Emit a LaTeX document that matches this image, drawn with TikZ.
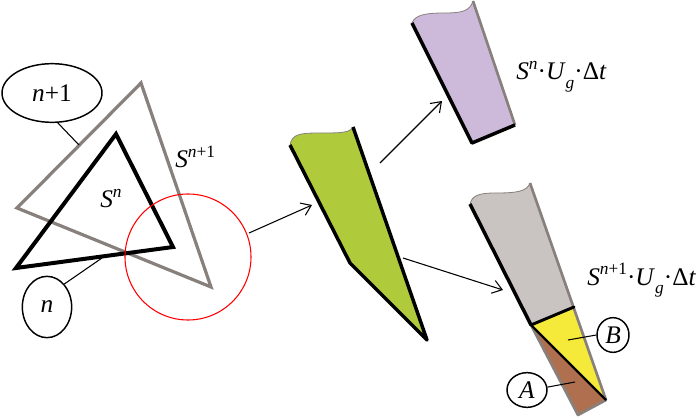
\documentclass[tikz,border=0pt]{standalone}
\usepackage{fontspec}
\setmainfont{Liberation Serif}
\usetikzlibrary{shapes.geometric,arrows.meta}
\definecolor{greenfill}{RGB}{175,203,60}
\definecolor{purplefill}{RGB}{205,186,218}
\definecolor{grayfill}{RGB}{201,195,193}
\definecolor{yellowfill}{RGB}{245,233,58}
\definecolor{brownfill}{RGB}{176,112,80}
\definecolor{edgegray}{RGB}{135,128,124}
\newcommand{\lbl}{\fontsize{19}{22}\selectfont}
\newcommand{\supx}[1]{\raisebox{0.42em}{\fontsize{13}{13}\selectfont #1}}
\newcommand{\subx}[1]{\raisebox{-0.32em}{\fontsize{13}{13}\selectfont #1}}
\begin{document}
\begin{tikzpicture}[x=0.75pt,y=-0.75pt,
  thinline/.style={draw=black,line width=0.8pt},
  arr/.style={thinline,-{Straight Barb[length=7pt,width=10pt]}},
  bubble/.style={ellipse,draw=black,line width=1.1pt,inner sep=0pt,font=\lbl},
  thickedge/.style={draw=black,line width=2.6pt,line join=round},
  grayedge/.style={draw=edgegray,line width=2pt,line join=round},
  wavy/.style={draw=edgegray,line width=0.6pt},
  txt/.style={font=\lbl,inner sep=0pt}]
\useasboundingbox (0,0) rectangle (700,417);

% ---------- left: triangles ----------
\coordinate (g1) at (141,83);
\coordinate (g2) at (17,208);
\coordinate (g3) at (211,287);
\draw[draw=edgegray,line width=2.4pt,line join=miter] (g1) -- (g2) -- (g3) -- cycle;
\coordinate (b1) at (116,134);
\coordinate (b2) at (173,247);
\coordinate (b3) at (16,268);
\draw[draw=black,line width=3pt,line join=miter] (b1) -- (b2) -- (b3) -- cycle;

\node[txt,anchor=base west] (sn) at (100,208) {\textit{S}\supx{\textit{n}}};
\node[txt,anchor=base west] (snp) at (175,168) {\textit{S}\supx{\textit{n}+1}};

\node[bubble,minimum width=75pt,minimum height=44pt] (e1) at (52,93) {\textit{n}+1};
\coordinate (c1) at (79,145);
\draw[thinline] (e1.281) -- (c1);
\node[bubble,minimum width=37pt,minimum height=46pt] (e2) at (47,307) {\textit{n}};
\coordinate (c2) at (102,258);
\draw[thinline] (e2.53) -- (c2);

\node[circle,draw=red,line width=0.8pt,minimum size=94.5pt,inner sep=0pt] (rc) at (188,257) {};

% ---------- green piece ----------
\coordinate (gr1) at (290,145);
\coordinate (gr2) at (353,127);
\coordinate (gr3) at (427,340);
\coordinate (gr4) at (350,263);
\fill[greenfill] (gr1) .. controls (292,134) and (300,133) .. (320,133)
  .. controls (340,133) and (350,133) .. (gr2) -- (gr3) -- (gr4) -- cycle;
\draw[wavy] (gr1) .. controls (292,134) and (300,133) .. (320,133)
  .. controls (340,133) and (350,133) .. (gr2);
\draw[thickedge] (gr1) -- (gr4) -- (gr3) -- (gr2);

\coordinate (a1s) at (249,233);
\coordinate (a1e) at (312,205);
\draw[arr] (a1s) -- (a1e);

% ---------- purple piece ----------
\coordinate (p1) at (412,23);
\coordinate (p2) at (473,1);
\coordinate (p3) at (515,125);
\coordinate (p4) at (472,143);
\fill[purplefill] (p1) .. controls (415,15) and (425,13) .. (445,13)
  .. controls (462,13) and (470,11) .. (p2) -- (p3) -- (p4) -- cycle;
\draw[wavy] (p1) .. controls (415,15) and (425,13) .. (445,13)
  .. controls (462,13) and (470,11) .. (p2);
\draw[grayedge] (p2) -- (p3);
\draw[thickedge] (p3) -- (p4) -- (p1);

\coordinate (a2s) at (380,163);
\coordinate (a2e) at (442,101);
\draw[arr] (a2s) -- (a2e);

\node[txt,anchor=base west] (lp) at (516,80)
  {\textit{S}\supx{\textit{n}}·\textit{U}\subx{\textit{g}}·Δ\textit{t}};

% ---------- gray column ----------
\coordinate (q1) at (470,204);
\coordinate (q2) at (530,183);
\coordinate (q3) at (574,307);
\coordinate (q4) at (531,325);
\coordinate (q5) at (606,400);
\coordinate (q6) at (578,415);
\fill[grayfill] (q1) .. controls (472,196) and (478,193) .. (495,193)
  .. controls (515,193) and (527,192) .. (q2) -- (q3) -- (q4) -- cycle;
\draw[wavy] (q1) .. controls (472,196) and (478,193) .. (495,193)
  .. controls (515,193) and (527,192) .. (q2);
\fill[yellowfill] (q4) -- (q3) -- (q5) -- cycle;
\fill[brownfill] (q4) -- (q5) -- (q6) -- cycle;
\draw[grayedge] (q2) -- (q5) -- (q6) -- (q4);
\draw[thickedge] (q1) -- (q4);
\draw[draw=black,line width=2.2pt,line cap=round] (q4) -- (q3);
\draw[draw=black,line width=1.6pt] (q4) -- (q5);

\coordinate (a3s) at (403,258);
\coordinate (a3e) at (503,290);
\draw[arr] (a3s) -- (a3e);

\node[txt,anchor=base west] (lg) at (587,285)
  {\textit{S}\supx{\textit{n}+1}·\textit{U}\subx{\textit{g}}·Δ\textit{t}};

\node[bubble,minimum width=24pt,minimum height=26pt] (eb) at (613,335) {\textit{B}};
\coordinate (cb) at (568,340);
\draw[thinline] (eb.west) -- (cb);
\node[bubble,minimum width=30pt,minimum height=26pt] (ea) at (527,390) {\textit{A}};
\coordinate (ca) at (575,382);
\draw[thinline] (ea.8) -- (ca);
\end{tikzpicture}
\end{document}
